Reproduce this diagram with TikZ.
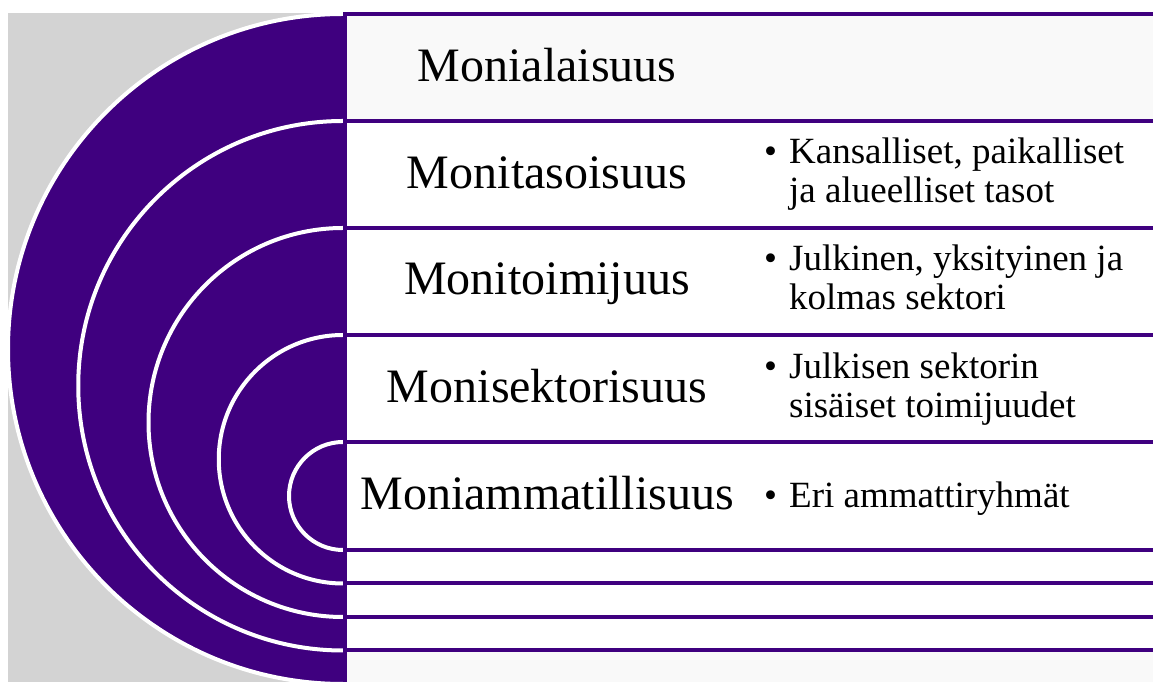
\documentclass[tikz,border=0pt]{standalone}
\usepackage{fontspec}
\setmainfont{Liberation Serif}

\definecolor{deeppurple}{HTML}{3F007F}
\definecolor{backgray}{HTML}{D3D3D3}
\definecolor{rowgray}{HTML}{F9F9F9}

\begin{document}
\begin{tikzpicture}[x=1pt,y=1pt,
	ring/.style={fill=deeppurple, draw=white, line width=4pt},
	row/.style={draw=deeppurple, line width=4pt},
	head/.style={anchor=base, inner sep=0pt, font=\fontsize{48}{52}\selectfont},
	item/.style={anchor=base west, inner sep=0pt, font=\fontsize{37}{39}\selectfont}]

%grid help
% \draw[gray, very thin, step=50] (0,0) grid (1153,682);

%Frame of the picture
\clip (0,0) rectangle (1153,682);
\fill[white] (0,0) rectangle (1153,682);

% Gray backdrop behind the rings
		\fill[backgray] (8,0) rectangle (345,669);

%Rings, biggest first (fill closes the path, the white rim stays on the arc)
\filldraw[ring] (343,668) arc[start angle=90, end angle=270, radius=335pt];
\filldraw[ring] (343,561) arc[start angle=90, end angle=270, radius=264.75pt];
\filldraw[ring] (343,454) arc[start angle=90, end angle=270, radius=194.5pt];
\filldraw[ring] (343,347) arc[start angle=90, end angle=270, radius=124.25pt];
\filldraw[ring] (343,240) arc[start angle=90, end angle=270, radius=54pt];

%Rows on the right
\draw[row, fill=rowgray] (344.5,668) rectangle (1160,561);
\draw[row, fill=white] (344.5,561) rectangle (1160,454);
\draw[row, fill=white] (344.5,454) rectangle (1160,347);
\draw[row, fill=white] (344.5,347) rectangle (1160,240);
\draw[row, fill=white] (344.5,240) rectangle (1160,132);
%thin rows at the bottom
\draw[row, fill=white] (344.5,132) rectangle (1160,98.5);
\draw[row, fill=white] (344.5,98.5) rectangle (1160,65);
\draw[row, fill=white] (344.5,65) rectangle (1160,31.5);
\draw[row, fill=rowgray] (344.5,31.5) rectangle (1160,-5);

%Headings
\node[head] (m1) at (547,600) {Monialaisuus};
\node[head] (m2) at (547,493) {Monitasoisuus};
\node[head] (m3) at (547,387) {Monitoimijuus};
\node[head] (m4) at (547,279) {Monisektorisuus};
\node[head] (m5) at (547,172) {Moniammatillisuus};

%Bullets
\node[item] (k2) at (764,518) {\begin{tabular}[t]{@{}l@{\hspace{12pt}}l@{}}•&Kansalliset, paikalliset\\&ja alueelliset tasot\end{tabular}};
\node[item] (k3) at (764,411) {\begin{tabular}[t]{@{}l@{\hspace{12pt}}l@{}}•&Julkinen, yksityinen ja\\&kolmas sektori\end{tabular}};
\node[item] (k4) at (764,303) {\begin{tabular}[t]{@{}l@{\hspace{12pt}}l@{}}•&Julkisen sektorin\\&sisäiset toimijuudet\end{tabular}};
\node[item] (k5) at (764,174) {\begin{tabular}[t]{@{}l@{\hspace{12pt}}l@{}}•&Eri ammattiryhmät\end{tabular}};

\end{tikzpicture}
\end{document}
